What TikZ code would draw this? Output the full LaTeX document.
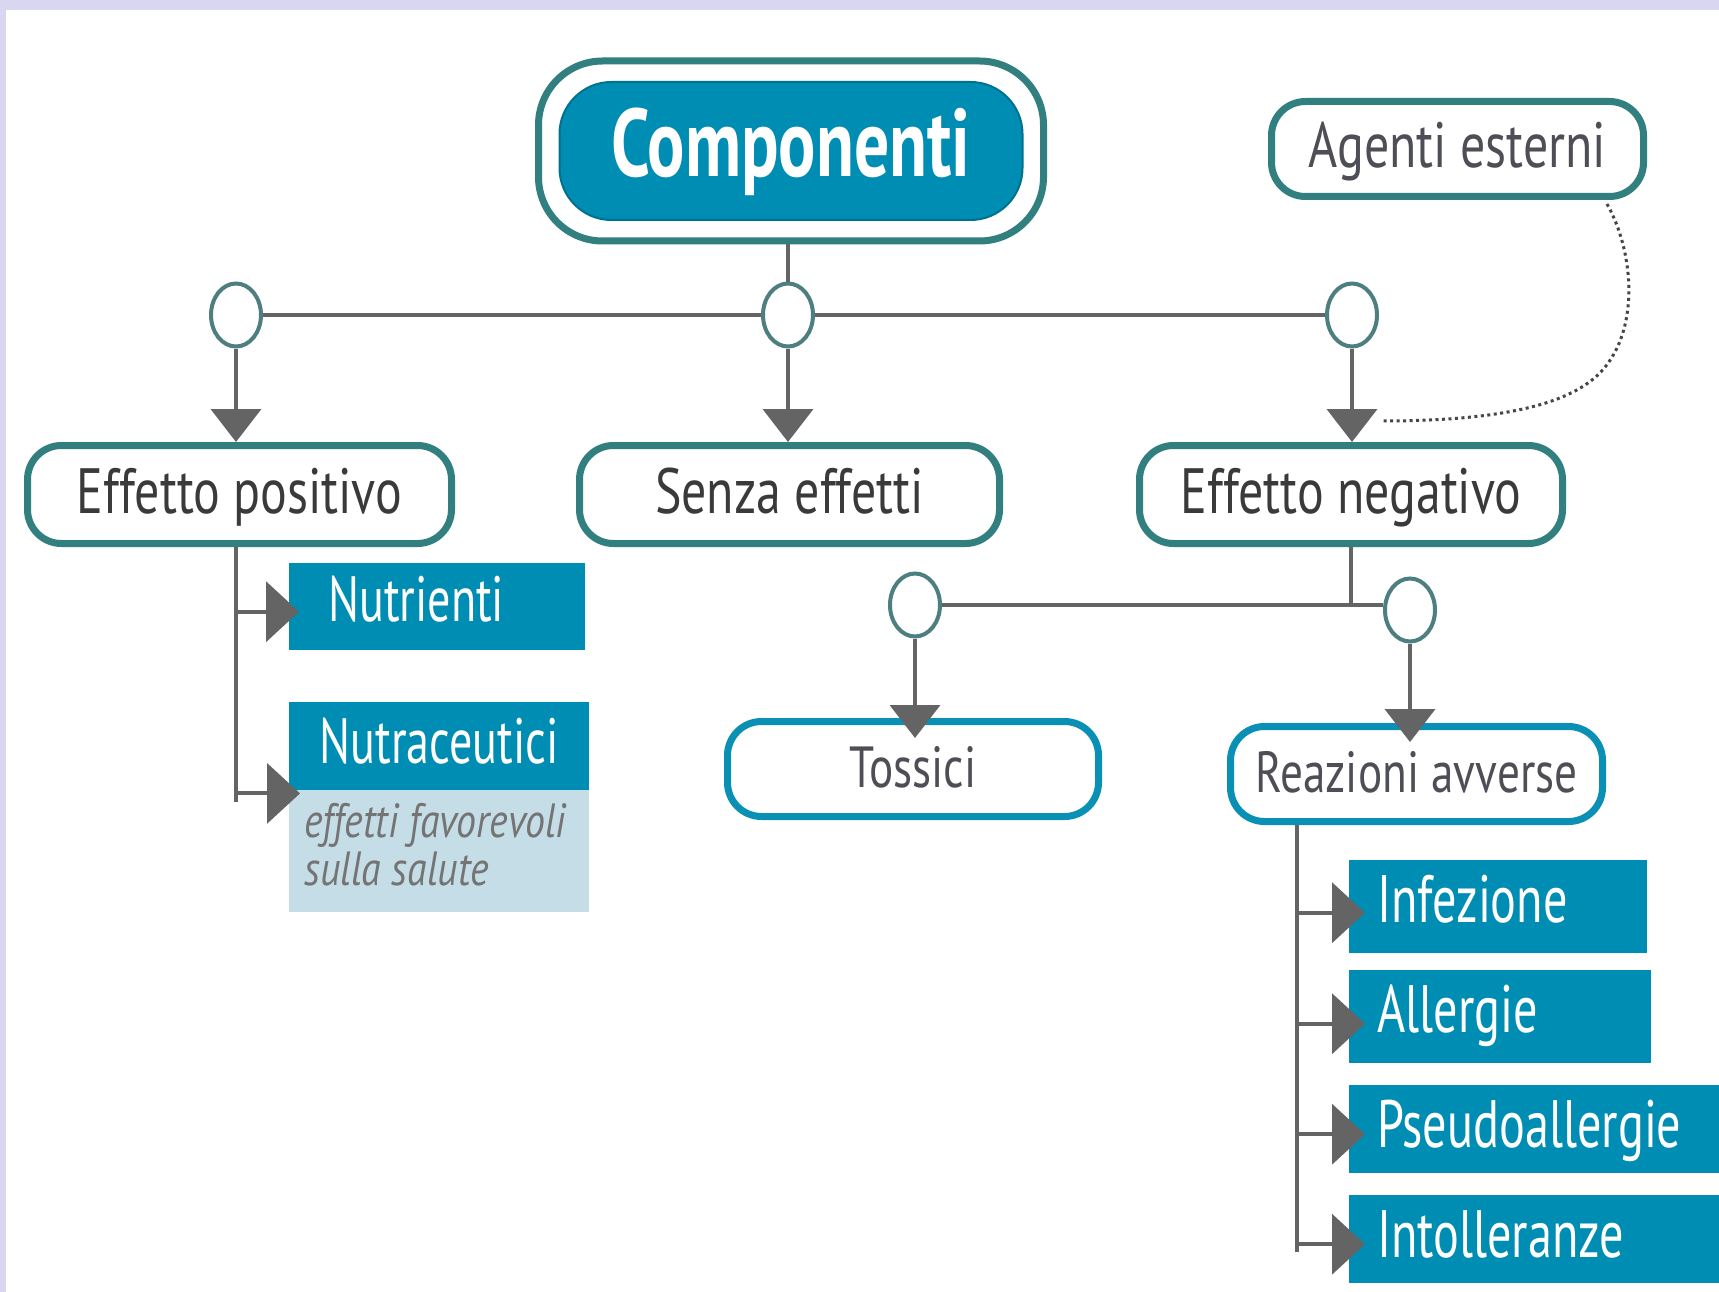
\documentclass[tikz,border=0pt]{standalone}
\usepackage{fontspec}
\newfontfamily\lab[FakeStretch=0.78]{PT Sans}
\newfontfamily\labt[FakeStretch=0.72]{PT Sans}
\newfontfamily\labc[FakeStretch=0.725]{PT Sans}
\newfontfamily\labi[FakeStretch=0.83]{PT Sans}
\usetikzlibrary{arrows.meta,shapes.geometric,fit,calc}
\definecolor{edgeteal}{HTML}{327F80}
\definecolor{boxblue}{HTML}{0A90B5}
\definecolor{tealfill}{HTML}{008DB3}
\definecolor{notefill}{HTML}{C5DDE6}
\definecolor{txtdark}{HTML}{3A3A3A}
\definecolor{txtmid}{HTML}{4E4E56}
\definecolor{notetxt}{HTML}{747474}
\definecolor{linegray}{HTML}{646464}
\definecolor{circedge}{HTML}{4D7F80}
\definecolor{lav}{HTML}{D9D6F0}
\begin{document}
\begin{tikzpicture}[x=1pt,y=-1pt,
  rbox/.style={draw=edgeteal, line width=7pt, fill=white, rounded corners=34pt,
    minimum height=98pt, inner sep=0pt, text=txtdark,
    font=\lab\fontsize{64}{70}\selectfont, text height=46pt, text depth=8pt},
  bbox/.style={rbox, draw=boxblue, text=txtmid, minimum height=95pt,
    font=\lab\fontsize{58}{64}\selectfont, text height=43pt, text depth=6pt},
  tealbox/.style={fill=tealfill, text=white, anchor=north west, inner xsep=28pt,
    inner ysep=0pt, align=left, font=\labt\fontsize{67}{72}\selectfont,
    text height=48pt, text depth=16pt},
  junction/.style={ellipse, draw=circedge, line width=4pt, fill=white,
    minimum width=50pt, minimum height=63pt, inner sep=0pt},
  conn/.style={draw=linegray, line width=4pt},
  downarrow/.style={conn, -{Triangle[length=33pt,width=50pt]}},
  rightarrow/.style={conn, -{Triangle[length=33pt,width=60pt]}},
  dotlink/.style={draw=linegray!70!black, line width=3pt, dash pattern=on 3pt off 3.5pt},
]
% background
\fill[lav] (0,0) rectangle (1719,1292);
\fill[white] (6,10) rectangle (1719,1292);
\useasboundingbox (0,0) rectangle (1719,1292);

% top node
\node[fill=tealfill, draw=tealfill!80!black, line width=2pt, rounded corners=52pt,
  minimum width=463pt, minimum height=138pt, inner sep=0pt, text=white,
  font=\labc\bfseries\fontsize{96}{100}\selectfont, text height=70pt, text depth=18pt]
  (comp) at (791,151) {Componenti};
\node[draw=edgeteal, line width=7pt, rounded corners=64pt, fit=(comp), inner sep=20pt] (compframe) {};

\node[rbox, minimum width=372pt, minimum height=95pt, text=txtmid] (agenti) at (1457.5,149) {Agenti esterni};

% junctions row 1
\node[junction] (c1) at (236,315) {};
\node[junction] (c2) at (788,315) {};
\node[junction] (c3) at (1352,315) {};

% row 2
\node[rbox, minimum width=424pt] (pos) at (239.5,494.5) {Effetto positivo};
\node[rbox, minimum width=420pt] (senza) at (789.5,494.5) {Senza effetti};
\node[rbox, minimum width=423pt] (neg) at (1351,494.5) {Effetto negativo};

% junctions row 3
\node[junction] (c4) at (915,605) {};
\node[junction] (c5) at (1410,610) {};

% row 3 boxes
\node[bbox, minimum width=371pt] (toss) at (913,769) {Tossici};
\node[bbox, minimum width=372pt] (reaz) at (1416.5,774) {Reazioni avverse};

% teal boxes left
\node[tealbox, minimum width=296pt, minimum height=87pt, inner xsep=39pt, text width=218pt,
  font=\labt\fontsize{64}{70}\selectfont, text height=47pt, text depth=17pt]
  (nutri) at (289,563) {Nutrienti};
\node[tealbox, minimum width=300pt, minimum height=88pt, align=center,
  font=\labt\fontsize{64}{70}\selectfont, text height=48pt, text depth=14pt]
  (nutra) at (289,702) {Nutraceutici};
\node[fill=notefill, anchor=north west, minimum width=300pt, minimum height=122pt, inner sep=0pt]
  (note) at (289,790) {};
\node[anchor=north west, inner sep=0pt, align=left, text=notetxt,
  font=\labi\itshape\fontsize{48}{48}\selectfont] (notetext) at (304,803)
  {effetti favorevoli\\sulla salute};

% teal boxes right
\node[tealbox, minimum width=298pt, minimum height=93pt, text width=242pt] (infe) at (1349,860) {Infezione};
\node[tealbox, minimum width=302pt, minimum height=93pt, text width=246pt] (alle) at (1349,970) {Allergie};
\node[tealbox, minimum width=370pt, minimum height=88pt, text width=314pt, text height=50pt, text depth=14pt] (pseu) at (1349,1085) {Pseudoallergie};
\node[tealbox, minimum width=370pt, minimum height=88pt, text width=314pt, text height=50pt, text depth=14pt] (into) at (1349,1195) {Intolleranze};

% connectors top level
\draw[conn] (c2.north |- compframe.south) -- (c2.north);
\draw[conn] (c1.east) -- (c2.west);
\draw[conn] (c2.east) -- (c3.west);
\draw[downarrow] (c1.south) -- (c1.south |- pos.north);
\draw[downarrow] (c2.south) -- (c2.south |- senza.north);
\draw[downarrow] (c3.south) -- (c3.south |- neg.north);

% dotted link from external agents
\coordinate (agstart) at ($(agenti.south east)+(-40,4)$);
\coordinate (agend) at ($(neg.north)+(30,-21)$);
\draw[dotlink] (agstart) .. controls (1636,255) and (1642,345) .. (1588,383)
  .. controls (1545,414) and (1460,421) .. (agend);

% negative effect branch
\draw[conn] (neg.south) -- (neg.south |- c4.east);
\draw[conn] (c4.east) -- (c4.east -| c5.west);
\coordinate (tossin) at ($(c4.south |- toss.north)+(0,20)$);
\coordinate (reazin) at ($(c5.south |- reaz.north)+(0,19)$);
\draw[downarrow] (c4.south) -- (tossin);
\draw[downarrow] (c5.south) -- (reazin);

% positive effect branch
\coordinate (tl0) at (c1.south |- pos.south);
\coordinate (tl1) at (236,802);
\draw[conn] (tl0) -- (tl1);
\coordinate (an) at ($(nutri.west)+(10,5)$);
\coordinate (bn) at ($(nutra.south west)+(11,3)$);
\draw[rightarrow] (tl0 |- an) -- (an);
\draw[rightarrow] (tl0 |- bn) -- (bn);

% adverse reactions branch
\coordinate (tr0) at ($(reaz.south)+(-119.5,0)$);
\coordinate (tr1) at (1297,1252);
\draw[conn] (tr0) -- (tr1);
\coordinate (ai) at ($(infe.west)+(16,6)$);
\coordinate (aa) at ($(alle.west)+(16,7)$);
\coordinate (ap) at ($(pseu.west)+(16,5)$);
\coordinate (at) at ($(into.west)+(16,5)$);
\draw[rightarrow] (tr0 |- ai) -- (ai);
\draw[rightarrow] (tr0 |- aa) -- (aa);
\draw[rightarrow] (tr0 |- ap) -- (ap);
\draw[rightarrow] (tr0 |- at) -- (at);
\end{tikzpicture}
\end{document}
